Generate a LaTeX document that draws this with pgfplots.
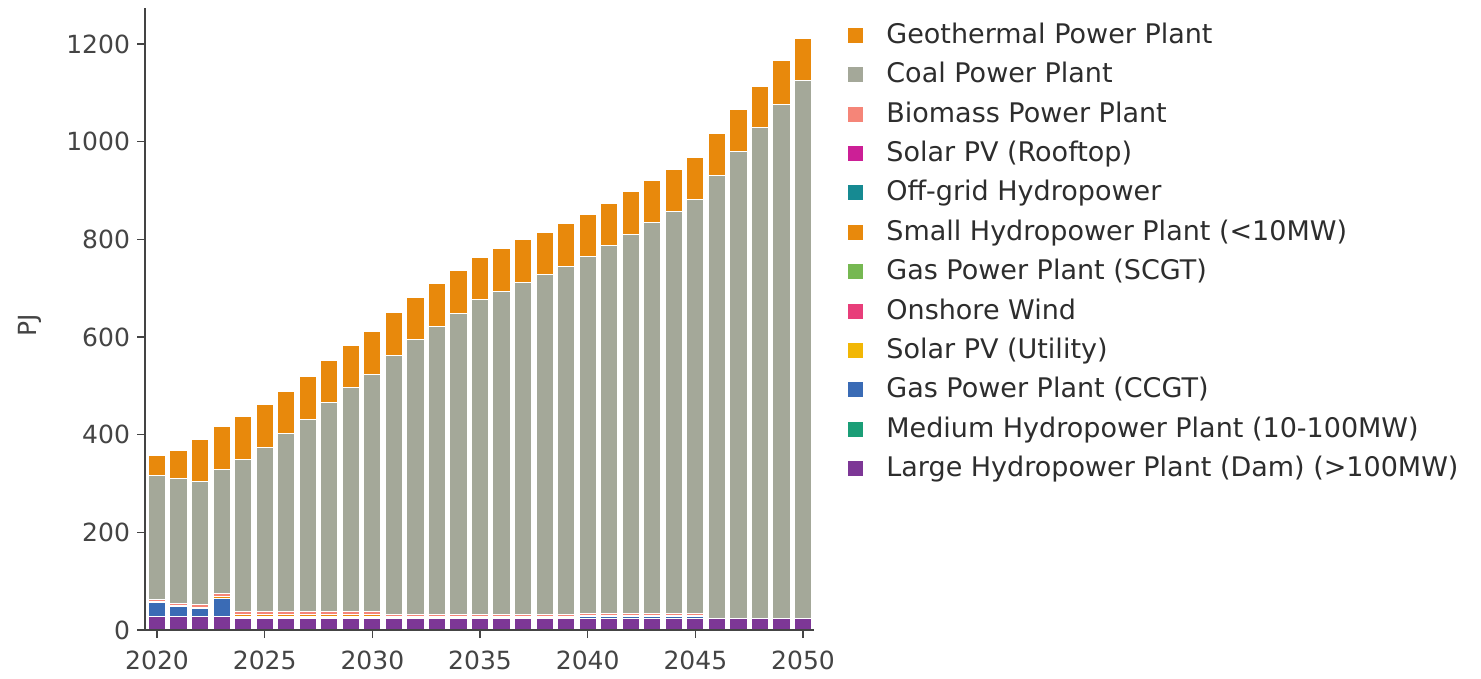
\documentclass[border=0pt]{standalone}
\usepackage{fontspec}
\setmainfont{DejaVu Sans}
\usepackage{pgfplots}
\pgfplotsset{compat=1.18}
\usepackage{pgfplotstable}

\definecolor{cGeo}{RGB}{232,137,12}
\definecolor{cCoal}{RGB}{164,168,153}
\definecolor{cBio}{RGB}{245,133,120}
\definecolor{cRoof}{RGB}{204,31,150}
\definecolor{cOff}{RGB}{22,138,146}
\definecolor{cSmall}{RGB}{232,137,12}
\definecolor{cSCGT}{RGB}{118,184,82}
\definecolor{cWind}{RGB}{232,62,122}
\definecolor{cSolU}{RGB}{242,183,5}
\definecolor{cCCGT}{RGB}{58,107,181}
\definecolor{cMed}{RGB}{27,158,119}
\definecolor{cLarge}{RGB}{125,55,150}
\definecolor{axisgray}{RGB}{68,68,68}
\definecolor{legtext}{RGB}{45,45,45}

\pgfplotstableread{
year LH MH CCGT SU W SCGT SH OG RT BIO COAL GEO
2020 27 0 29 0 0 0 3 0 0 4 253 42
2021 27 0 21 0 0 0 3 0 0 4 256 56
2022 27 0 17 0 0 0 3 0 0 5 253 85
2023 27 0 38 0 0 0 4 0 0 6 253 88
2024 23 0 0 2 3 0 4 0 0 6 312 88
2025 23 0 0 2 3 0 4 0 0 6 336 88
2026 23 0 0 2 3 0 4 0 0 6 365 85
2027 23 0 0 2 3 0 4 0 0 6 394 87
2028 23 0 0 2 3 0 4 0 0 6 427 86
2029 23 0 0 2 3 0 4 0 0 6 459 85
2030 23 0 0 2 3 0 4 0 0 6 486 88
2031 23 0 0 1 1 0 3 0 0 3 532 87
2032 23 0 0 1 1 0 3 0 0 3 563 87
2033 23 0 3 0 0 0 2 0 0 3 590 89
2034 23 0 3 0 0 0 2 0 0 3 617 89
2035 23 0 3 0 0 0 2 0 0 3 646 86
2036 23 0 3 0 0 0 2 0 0 3 663 87
2037 23 0 3 0 0 0 2 0 0 3 680 89
2038 23 0 3 0 0 0 2 0 0 3 696 87
2039 23 0 3 0 0 0 2 0 0 3 714 88
2040 23 0 5 0 0 0 2 0 0 3 732 86
2041 23 0 5 0 0 0 2 0 0 3 754 87
2042 23 0 5 0 0 0 2 0 0 3 777 87
2043 23 0 5 0 0 0 2 0 0 3 801 87
2044 23 0 5 0 0 0 2 0 0 3 825 85
2045 23 0 5 0 0 0 2 0 0 3 848 87
2046 23 0 0 0 0 0 0 0 0 1 906 87
2047 23 0 0 0 0 0 0 0 0 1 956 86
2048 23 0 0 0 0 0 0 0 0 1 1006 84
2049 23 0 0 0 0 0 0 0 0 1 1053 89
2050 23 0 0 0 0 0 0 0 0 1 1102 86
}\datatable

\begin{document}
\begin{tikzpicture}
\useasboundingbox (-72.5pt,-24.5pt) rectangle (668pt,315pt);
\begin{axis}[
  at={(0,0)}, anchor=south west,
  scale only axis, width=334.5pt, height=311pt,
  xmin=2019.44, xmax=2050.51, ymin=0, ymax=1273.8,
  ybar stacked, bar width=0.8,
  axis on top,
  axis x line*=bottom, axis y line*=left,
  axis line style={-, color=axisgray, line width=0.6pt},
  xtick={2020,2025,...,2050}, ytick={0,200,...,1200},
  tick align=outside, major tick length=4pt,
  tick style={color=axisgray, line width=0.6pt},
  /pgf/number format/assume math mode=true,
  xticklabel style={/pgf/number format/1000 sep={}, font=\fontsize{12.5}{15}\selectfont, text=axisgray, yshift=-3pt},
  yticklabel style={/pgf/number format/1000 sep={}, font=\fontsize{12.5}{15}\selectfont, text=axisgray},
  ylabel={PJ},
  ylabel style={at={(axis description cs:-0.172,0.49)}, anchor=center, font=\fontsize{12.5}{15}\selectfont, text=axisgray},
  every axis plot/.append style={draw=white, line width=0.5pt},
  legend image code/.code={\path[#1, draw=none] (0pt,-3.25pt) rectangle (7.5pt,4.25pt);},
  reverse legend,
  legend cell align=left,
  legend style={at={(axis description cs:1.0508,0.976)}, anchor=north west, draw=none, fill=none,
    inner sep=0pt, column sep=11.5pt, row sep=6.7pt, text=legtext,
    font=\fontsize{13.5}{16}\selectfont,
    nodes={inner sep=0pt, text height=10pt, text depth=3pt}},
]
\addplot[fill=cLarge] table[x=year,y=LH]{\datatable};
\addlegendentry{Large Hydropower Plant (Dam) (>100MW)}
\addplot[fill=cMed] table[x=year,y=MH]{\datatable};
\addlegendentry{Medium Hydropower Plant (10-100MW)}
\addplot[fill=cCCGT] table[x=year,y=CCGT]{\datatable};
\addlegendentry{Gas Power Plant (CCGT)}
\addplot[fill=cSolU] table[x=year,y=SU]{\datatable};
\addlegendentry{Solar PV (Utility)}
\addplot[fill=cWind] table[x=year,y=W]{\datatable};
\addlegendentry{Onshore Wind}
\addplot[fill=cSCGT] table[x=year,y=SCGT]{\datatable};
\addlegendentry{Gas Power Plant (SCGT)}
\addplot[fill=cSmall] table[x=year,y=SH]{\datatable};
\addlegendentry{Small Hydropower Plant (<10MW)}
\addplot[fill=cOff] table[x=year,y=OG]{\datatable};
\addlegendentry{Off-grid Hydropower}
\addplot[fill=cRoof] table[x=year,y=RT]{\datatable};
\addlegendentry{Solar PV (Rooftop)}
\addplot[fill=cBio] table[x=year,y=BIO]{\datatable};
\addlegendentry{Biomass Power Plant}
\addplot[fill=cCoal] table[x=year,y=COAL]{\datatable};
\addlegendentry{Coal Power Plant}
\addplot[fill=cGeo] table[x=year,y=GEO]{\datatable};
\addlegendentry{Geothermal Power Plant}
\end{axis}
\end{tikzpicture}
\end{document}
